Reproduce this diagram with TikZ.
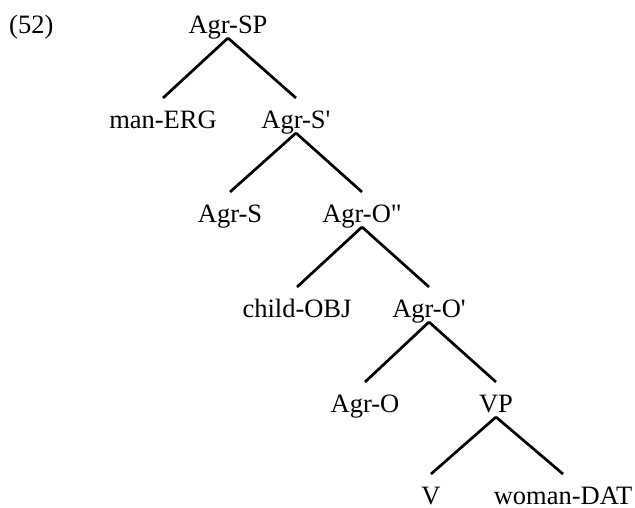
\documentclass[tikz,border=0pt]{standalone}
\usepackage{fontspec}
\setmainfont{Liberation Serif}[Ligatures=TeXOff]
\begin{document}
\begin{tikzpicture}[x=1pt,y=-1pt,
  lbl/.style={anchor=base,inner sep=0pt,font=\fontsize{26.5}{30}\selectfont},
  edge/.style={line width=2.7pt}]
\useasboundingbox (0,0) rectangle (635,507);
\node[lbl,anchor=base west] (num) at (9,33) {(52)};
\node[lbl] (sp) at (228,33) {Agr-SP};
\node[lbl] (man) at (163,128) {man-ERG};
\node[lbl] (sbar) at (296,128) {Agr-S'};
\node[lbl] (s) at (230,222) {Agr-S};
\node[lbl] (obar2) at (362,222) {Agr-O"};
\node[lbl] (child) at (297,317) {child-OBJ};
\node[lbl] (obar) at (429,317) {Agr-O'};
\node[lbl] (o) at (365,412) {Agr-O};
\node[lbl] (vp) at (496,412) {VP};
\node[lbl] (v) at (431,504) {V};
\node[lbl] (woman) at (563,504) {woman-DAT};
\foreach \p/\c in {sp/man,sp/sbar,sbar/s,sbar/obar2,obar2/child,obar2/obar,obar/o,obar/vp,vp/v,vp/woman}
  \draw[edge] ([yshift=-5pt]\p.base) -- ([yshift=30pt]\c.base);
\end{tikzpicture}
\end{document}
